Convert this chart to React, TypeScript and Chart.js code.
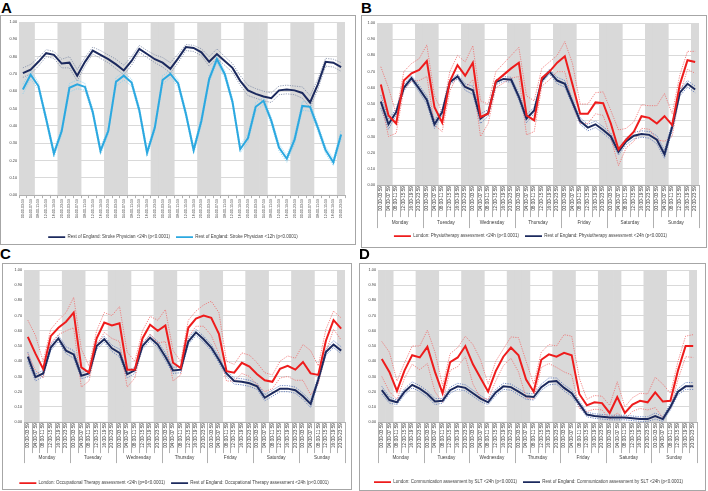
import React, { useEffect, useRef } from "react";
import { Chart, registerables } from "chart.js";
Chart.register(...registerables);

const FONT = '"Liberation Sans", Arial, sans-serif';

const days = ["Monday", "Tuesday", "Wednesday", "Thursday", "Friday", "Saturday", "Sunday"];
const timeSlots = ["00:00-03:59", "04:00-07:59", "08:00-11:59", "12:00-15:59", "16:00-19:59", "20:00-23:59"];
const xLabels = days.flatMap(() => timeSlots);

// grey night-time shading (20:00-07:59)
const nightBand = [1,1,0,0,0,1, 1,1,0,0,0,1, 1,1,0,0,0,1, 1,1,0,0,0,1, 1,1,0,0,0,1, 1,1,0,0,0,1, 1,1,0,0,0,1];

// ---- Panel A ----
const aPhys24 = [0.705,0.725,0.77,0.82,0.81,0.76,0.765,0.69,0.77,0.835,0.81,0.785,0.755,0.72,0.775,0.845,0.815,0.785,0.765,0.73,0.79,0.855,0.85,0.825,0.77,0.815,0.775,0.735,0.66,0.605,0.585,0.57,0.56,0.605,0.61,0.605,0.59,0.535,0.64,0.77,0.765,0.74];
const aPhys24Hi = [0.735,0.755,0.795,0.84,0.83,0.785,0.8,0.725,0.795,0.855,0.835,0.81,0.785,0.75,0.8,0.865,0.835,0.81,0.795,0.765,0.815,0.87,0.865,0.845,0.8,0.845,0.8,0.76,0.69,0.635,0.615,0.6,0.59,0.63,0.635,0.63,0.625,0.575,0.67,0.79,0.785,0.765];
const aPhys24Lo = [0.68,0.7,0.745,0.8,0.79,0.735,0.735,0.66,0.745,0.815,0.79,0.765,0.73,0.695,0.75,0.825,0.795,0.765,0.74,0.705,0.765,0.835,0.83,0.805,0.745,0.79,0.75,0.71,0.635,0.575,0.56,0.545,0.535,0.58,0.585,0.58,0.56,0.505,0.61,0.745,0.74,0.715];
const aPhys12 = [0.61,0.695,0.63,0.44,0.24,0.37,0.62,0.64,0.625,0.48,0.255,0.37,0.655,0.69,0.65,0.49,0.245,0.39,0.665,0.70,0.645,0.47,0.26,0.43,0.67,0.785,0.70,0.54,0.265,0.33,0.51,0.545,0.43,0.275,0.21,0.32,0.515,0.51,0.39,0.26,0.19,0.35];
const aPhys12Hi = [0.64,0.72,0.65,0.46,0.26,0.39,0.645,0.665,0.645,0.5,0.275,0.39,0.68,0.71,0.67,0.51,0.265,0.41,0.69,0.72,0.665,0.49,0.28,0.455,0.69,0.805,0.72,0.56,0.285,0.355,0.535,0.565,0.45,0.295,0.23,0.345,0.54,0.535,0.41,0.28,0.21,0.375];
const aPhys12Lo = [0.585,0.67,0.61,0.42,0.22,0.35,0.595,0.615,0.605,0.46,0.235,0.35,0.63,0.665,0.63,0.47,0.225,0.37,0.64,0.68,0.625,0.45,0.24,0.405,0.65,0.765,0.68,0.52,0.245,0.305,0.485,0.525,0.41,0.255,0.19,0.295,0.49,0.485,0.37,0.24,0.17,0.325];

// ---- Panel B ----
const bLondon = [0.62,0.43,0.38,0.645,0.69,0.71,0.765,0.48,0.385,0.64,0.74,0.675,0.755,0.42,0.44,0.64,0.68,0.72,0.755,0.43,0.40,0.66,0.70,0.755,0.795,0.62,0.44,0.44,0.51,0.505,0.38,0.22,0.28,0.33,0.425,0.415,0.38,0.425,0.37,0.62,0.77,0.76];
const bLondonHi = [0.73,0.60,0.44,0.70,0.75,0.78,0.865,0.55,0.45,0.70,0.80,0.76,0.86,0.52,0.50,0.70,0.75,0.80,0.85,0.55,0.52,0.72,0.76,0.80,0.885,0.75,0.50,0.50,0.57,0.575,0.46,0.34,0.35,0.39,0.495,0.49,0.49,0.565,0.44,0.68,0.825,0.825];
const bLondonLo = [0.52,0.30,0.32,0.59,0.64,0.645,0.67,0.37,0.33,0.58,0.68,0.60,0.65,0.30,0.38,0.60,0.63,0.66,0.67,0.31,0.33,0.61,0.65,0.70,0.70,0.50,0.38,0.38,0.44,0.43,0.29,0.12,0.23,0.27,0.35,0.345,0.28,0.27,0.30,0.56,0.715,0.69];
const bRest = [0.515,0.375,0.45,0.60,0.66,0.595,0.525,0.375,0.45,0.635,0.67,0.605,0.585,0.41,0.445,0.635,0.655,0.65,0.545,0.41,0.46,0.645,0.70,0.645,0.625,0.51,0.395,0.355,0.375,0.34,0.30,0.205,0.27,0.305,0.315,0.31,0.28,0.19,0.36,0.57,0.625,0.59];
const bRestHi = [0.555,0.405,0.47,0.62,0.675,0.615,0.55,0.4,0.47,0.65,0.685,0.625,0.61,0.44,0.465,0.65,0.67,0.665,0.565,0.435,0.48,0.66,0.715,0.665,0.645,0.53,0.415,0.375,0.395,0.36,0.32,0.225,0.29,0.325,0.335,0.33,0.305,0.215,0.385,0.59,0.645,0.61];
const bRestLo = [0.475,0.345,0.43,0.58,0.645,0.575,0.5,0.35,0.43,0.62,0.655,0.585,0.56,0.38,0.425,0.62,0.64,0.635,0.525,0.385,0.44,0.63,0.685,0.625,0.605,0.49,0.375,0.335,0.355,0.32,0.28,0.185,0.25,0.285,0.295,0.29,0.255,0.165,0.335,0.55,0.605,0.57];

// ---- Panel C ----
const cLondon = [0.56,0.45,0.35,0.565,0.62,0.66,0.72,0.36,0.325,0.55,0.655,0.635,0.65,0.345,0.345,0.55,0.64,0.60,0.635,0.39,0.355,0.62,0.68,0.70,0.685,0.58,0.335,0.325,0.39,0.365,0.315,0.275,0.265,0.35,0.37,0.345,0.395,0.32,0.31,0.535,0.67,0.615];
const cLondonHi = [0.67,0.57,0.40,0.61,0.67,0.72,0.82,0.48,0.37,0.60,0.72,0.70,0.76,0.46,0.40,0.60,0.695,0.67,0.74,0.47,0.40,0.67,0.73,0.77,0.795,0.72,0.40,0.38,0.455,0.44,0.39,0.325,0.31,0.40,0.435,0.42,0.51,0.47,0.37,0.61,0.73,0.685];
const cLondonLo = [0.45,0.34,0.29,0.52,0.575,0.60,0.62,0.23,0.27,0.50,0.59,0.55,0.53,0.23,0.29,0.50,0.58,0.52,0.53,0.27,0.31,0.56,0.63,0.63,0.57,0.45,0.27,0.27,0.32,0.30,0.245,0.20,0.22,0.29,0.30,0.275,0.275,0.18,0.25,0.46,0.61,0.54];
const cRest = [0.43,0.295,0.32,0.49,0.55,0.47,0.445,0.305,0.32,0.50,0.545,0.485,0.455,0.315,0.34,0.50,0.555,0.51,0.43,0.34,0.345,0.53,0.59,0.545,0.49,0.41,0.32,0.27,0.265,0.255,0.235,0.16,0.19,0.22,0.22,0.21,0.17,0.12,0.28,0.46,0.51,0.47];
const cRestHi = [0.46,0.315,0.34,0.51,0.57,0.495,0.47,0.325,0.34,0.52,0.565,0.505,0.48,0.335,0.36,0.52,0.575,0.53,0.455,0.36,0.365,0.55,0.61,0.565,0.51,0.43,0.34,0.29,0.285,0.275,0.255,0.18,0.21,0.24,0.24,0.23,0.19,0.14,0.3,0.48,0.535,0.495];
const cRestLo = [0.40,0.27,0.3,0.47,0.53,0.45,0.42,0.285,0.3,0.48,0.525,0.465,0.43,0.29,0.32,0.48,0.535,0.49,0.405,0.32,0.325,0.51,0.57,0.525,0.47,0.39,0.3,0.25,0.245,0.235,0.215,0.14,0.17,0.2,0.2,0.19,0.15,0.095,0.26,0.44,0.49,0.45];

// ---- Panel D ----
const dLondon = [0.415,0.33,0.205,0.34,0.44,0.425,0.495,0.33,0.19,0.395,0.425,0.50,0.38,0.29,0.20,0.335,0.43,0.49,0.44,0.28,0.20,0.41,0.445,0.43,0.455,0.44,0.185,0.11,0.13,0.125,0.06,0.165,0.06,0.115,0.14,0.13,0.195,0.135,0.14,0.34,0.50,0.50];
const dLondonHi = [0.53,0.46,0.27,0.39,0.50,0.50,0.605,0.46,0.24,0.45,0.49,0.565,0.51,0.41,0.25,0.40,0.48,0.56,0.555,0.40,0.25,0.46,0.51,0.50,0.575,0.565,0.29,0.15,0.175,0.17,0.11,0.265,0.10,0.16,0.19,0.185,0.295,0.25,0.19,0.40,0.565,0.575];
const dLondonLo = [0.30,0.20,0.15,0.29,0.38,0.345,0.385,0.20,0.13,0.34,0.365,0.43,0.25,0.16,0.15,0.27,0.37,0.42,0.33,0.16,0.15,0.36,0.385,0.36,0.33,0.31,0.09,0.07,0.085,0.08,0.02,0.06,0.02,0.07,0.09,0.08,0.095,0.03,0.09,0.28,0.43,0.425];
const dRest = [0.21,0.145,0.13,0.20,0.245,0.22,0.185,0.135,0.14,0.21,0.235,0.225,0.19,0.155,0.13,0.195,0.235,0.23,0.20,0.17,0.165,0.23,0.265,0.27,0.225,0.19,0.12,0.05,0.04,0.035,0.03,0.03,0.03,0.025,0.02,0.02,0.04,0.02,0.10,0.20,0.235,0.235];
const dRestHi = [0.235,0.165,0.145,0.22,0.265,0.24,0.205,0.155,0.155,0.23,0.255,0.245,0.21,0.175,0.145,0.215,0.255,0.25,0.22,0.19,0.185,0.25,0.29,0.29,0.245,0.21,0.14,0.065,0.055,0.05,0.045,0.045,0.045,0.04,0.035,0.035,0.06,0.035,0.12,0.22,0.26,0.26];
const dRestLo = [0.185,0.125,0.115,0.18,0.225,0.2,0.165,0.115,0.125,0.19,0.215,0.205,0.17,0.135,0.115,0.175,0.215,0.21,0.18,0.15,0.145,0.21,0.245,0.25,0.205,0.17,0.1,0.035,0.025,0.02,0.015,0.015,0.015,0.01,0.005,0.005,0.02,0.005,0.08,0.18,0.215,0.215];

const NAVY = "#1c2a5e";
const LBLUE = "#2ba8e0";
const RED = "#ee1c1c";

type Series = { label: string; data: number[]; hi: number[]; lo: number[]; color: string; ciColor: string; order: number };

type PanelCfg = {
  letter: string;
  letterX: number;
  letterY: number;
  box: { x: number; y: number; w: number; h: number };
  pad: { l: number; r: number; t: number; b: number };
  yW: number;
  xH: number;
  timeFont: number;
  multi: boolean;
  timeH: number;
  dayH: number;
  series: Series[];
};

const panels: PanelCfg[] = [
  {
    letter: "A", letterX: 1, letterY: 0,
    box: { x: 0, y: 15, w: 356, h: 230 },
    pad: { l: 0, r: 10, t: 6, b: -5.3 }, yW: 18, xH: 33.7, timeFont: 3.6, multi: false, timeH: 0, dayH: 0,
    series: [
      { label: "Rest of England: Stroke Physician <24h (p<0.0001)", data: aPhys24, hi: aPhys24Hi, lo: aPhys24Lo, color: NAVY, ciColor: "#7d8aa6", order: 0 },
      { label: "Rest of England: Stroke Physician <12h (p<0.0001)", data: aPhys12, hi: aPhys12Hi, lo: aPhys12Lo, color: LBLUE, ciColor: "#86cfee", order: 0.5 },
    ],
  },
  {
    letter: "B", letterX: 361, letterY: 0,
    box: { x: 361, y: 15, w: 346, h: 233 },
    pad: { l: 0, r: 7, t: 7, b: -1.3 }, yW: 15, xH: 42.7, timeFont: 4.7, multi: true, timeH: 32, dayH: 11,
    series: [
      { label: "London: Physiotherapy assessment <24h (p<0.0001)", data: bLondon, hi: bLondonHi, lo: bLondonLo, color: RED, ciColor: "#f06a6a", order: 0 },
      { label: "Rest of England: Physiotherapy assessment <24h (p<0.0001)", data: bRest, hi: bRestHi, lo: bRestLo, color: NAVY, ciColor: "#4f6fb8", order: 0.5 },
    ],
  },
  {
    letter: "C", letterX: 0, letterY: 246,
    box: { x: 2, y: 263, w: 350, h: 227 },
    pad: { l: 0, r: 6, t: 6, b: -6.3 }, yW: 21, xH: 52.7, timeFont: 4.7, multi: true, timeH: 31, dayH: 10,
    series: [
      { label: "London: Occupational Therapy assessment <24h (p=0<0.0001)", data: cLondon, hi: cLondonHi, lo: cLondonLo, color: RED, ciColor: "#f06a6a", order: 0 },
      { label: "Rest of England: Occupational Therapy assessment <24h (p<0.0001)", data: cRest, hi: cRestHi, lo: cRestLo, color: NAVY, ciColor: "#4f6fb8", order: 0.5 },
    ],
  },
  {
    letter: "D", letterX: 359, letterY: 246,
    box: { x: 359, y: 263, w: 347, h: 228 },
    pad: { l: 0, r: 8, t: 6, b: -4.3 }, yW: 18, xH: 51.7, timeFont: 4.7, multi: true, timeH: 31, dayH: 10,
    series: [
      { label: "London: Communication assessment by SLT <24h (p<0.0001)", data: dLondon, hi: dLondonHi, lo: dLondonLo, color: RED, ciColor: "#f06a6a", order: 0 },
      { label: "Rest of England: Communication assessment by SLT <24h (p<0.0001)", data: dRest, hi: dRestHi, lo: dRestLo, color: NAVY, ciColor: "#4f6fb8", order: 0.5 },
    ],
  },
];

const multiLevelPlugin = {
  id: "multiLevel",
  afterDraw(chart: any) {
    const opts = chart.options.plugins.multiLevel;
    if (!opts || !opts.enabled) return;
    const xs = chart.scales.x;
    const ctx = chart.ctx;
    const n = xs.getLabels().length;
    const top = xs.top;
    const bounds: number[] = [];
    for (let i = 0; i <= n; i++) bounds.push(xs.getPixelForValue(i - 0.5));
    ctx.save();
    ctx.strokeStyle = "#b0b0b0";
    ctx.lineWidth = 1;
    ctx.beginPath();
    bounds.forEach((bx, i) => {
      const x = Math.round(bx) + 0.5;
      const isDay = i % timeSlots.length === 0;
      ctx.moveTo(x, top);
      ctx.lineTo(x, top + (isDay ? opts.timeH + opts.dayH : opts.timeH));
    });
    ctx.stroke();
    ctx.fillStyle = "#404040";
    ctx.font = `4.7px ${FONT}`;
    ctx.textAlign = "center";
    ctx.textBaseline = "middle";
    days.forEach((d, k) => {
      const x0 = bounds[k * timeSlots.length];
      const x1 = bounds[(k + 1) * timeSlots.length];
      ctx.fillText(d, (x0 + x1) / 2, top + opts.timeH + opts.dayH / 2);
    });
    ctx.restore();
  },
};

function Panel({ cfg }: { cfg: PanelCfg }) {
  const ref = useRef<HTMLCanvasElement>(null);
  useEffect(() => {
    const mains = cfg.series.map((s) => ({
      type: "line" as const,
      label: s.label,
      data: s.data,
      borderColor: s.color,
      backgroundColor: s.color,
      borderWidth: 2,
      pointRadius: 0,
      tension: 0,
      fill: false,
      order: s.order,
    }));
    const cis = cfg.series.flatMap((s) =>
      [s.hi, s.lo].map((arr) => ({
        type: "line" as const,
        label: "CI",
        data: arr,
        borderColor: s.ciColor,
        backgroundColor: s.ciColor,
        borderWidth: 0.8,
        borderDash: [1.2, 1.2],
        pointRadius: 0,
        tension: 0,
        fill: false,
        order: 2,
      }))
    );
    const band = {
      type: "bar" as const,
      label: "night",
      data: nightBand,
      backgroundColor: "#d9d9d9",
      borderWidth: 0,
      barPercentage: 1,
      categoryPercentage: 1,
      order: 10,
    };
    const nMain = mains.length;
    const chart = new Chart(ref.current as HTMLCanvasElement, {
      type: "line",
      data: { labels: xLabels, datasets: [...mains, ...cis, band] as any },
      options: {
        responsive: false,
        animation: false,
        devicePixelRatio: 1,
        layout: { padding: { left: cfg.pad.l, right: cfg.pad.r, top: cfg.pad.t, bottom: cfg.pad.b } },
        plugins: {
          tooltip: { enabled: false },
          title: { display: false },
          legend: {
            display: true,
            position: "bottom",
            labels: {
              boxWidth: 17,
              boxHeight: 1.8,
              padding: 6,
              color: "#404040",
              font: { size: 4.5, family: FONT },
              filter: (item: any) => item.datasetIndex < nMain,
              generateLabels: (ch: any) =>
                (Chart.defaults.plugins.legend.labels as any)
                  .generateLabels(ch)
                  .map((l: any) => ({ ...l, fillStyle: l.strokeStyle, lineWidth: 0, lineDash: [] })),
            },
          },
          multiLevel: { enabled: cfg.multi, timeH: cfg.timeH, dayH: cfg.dayH },
        } as any,
        scales: {
          x: {
            type: "category",
            offset: true,
            grid: {
              display: true,
              offset: true,
              drawOnChartArea: false,
              drawTicks: !cfg.multi,
              tickLength: 3,
              color: "#b0b0b0",
            },
            border: { display: true, color: "#b0b0b0", width: 1 },
            ticks: {
              autoSkip: false,
              minRotation: 90,
              maxRotation: 90,
              padding: 1,
              color: "#404040",
              font: { size: cfg.timeFont, family: FONT },
            },
            afterFit: (s: any) => {
              s.height = cfg.xH;
            },
          },
          y: {
            min: 0,
            max: 1,
            grid: { color: "#d9d9d9", lineWidth: 1, drawTicks: false },
            border: { display: false },
            ticks: {
              stepSize: 0.1,
              padding: 2,
              color: "#404040",
              font: { size: 3.8, family: FONT },
              callback: (v: any) => Number(v).toFixed(2),
            },
            afterFit: (s: any) => {
              s.width = cfg.yW;
            },
          },
        },
      },
      plugins: [multiLevelPlugin],
    });
    return () => chart.destroy();
  }, []);
  return (
    <>
      <div
        style={{
          position: "absolute",
          left: cfg.letterX,
          top: cfg.letterY,
          font: `bold 15px ${FONT}`,
          lineHeight: "15px",
          color: "#000",
        }}
      >
        {cfg.letter}
      </div>
      <div
        style={{
          position: "absolute",
          left: cfg.box.x,
          top: cfg.box.y,
          width: cfg.box.w,
          height: cfg.box.h,
          border: "1px solid #a6a6a6",
          boxSizing: "border-box",
          background: "#fff",
        }}
      >
        <canvas ref={ref} width={cfg.box.w - 2} height={cfg.box.h - 2} style={{ display: "block" }} />
      </div>
    </>
  );
}

export default function App() {
  return (
    <div style={{ position: "absolute", left: 0, top: 0, width: 708, height: 491, background: "#fff", overflow: "hidden" }}>
      {panels.map((p) => (
        <Panel key={p.letter} cfg={p} />
      ))}
    </div>
  );
}
